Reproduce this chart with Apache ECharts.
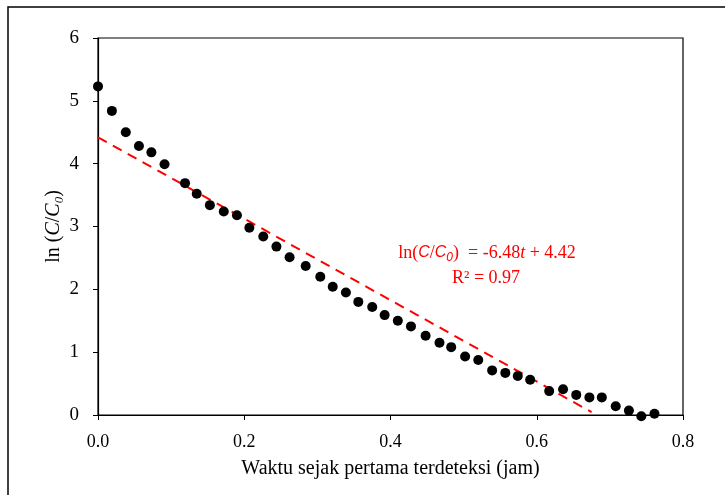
<!DOCTYPE html>
<html>
<head>
<meta charset="utf-8">
<script src="https://cdn.jsdelivr.net/npm/echarts@6/dist/echarts.min.js"></script>
<style>
  html, body { margin: 0; padding: 0; background: #fff; }
  #chart { width: 725px; height: 495px; }
</style>
</head>
<body>
<div id="chart"></div>
<script>
// measured points: time since first detection (h) vs ln(C/C0)
const timeJam = [0.0, 0.019, 0.038, 0.056, 0.073, 0.091, 0.119, 0.135, 0.153, 0.172, 0.190,
  0.207, 0.226, 0.244, 0.262, 0.284, 0.304, 0.321, 0.339, 0.356, 0.375,
  0.392, 0.410, 0.428, 0.448, 0.467, 0.483, 0.502, 0.520, 0.539, 0.557,
  0.574, 0.591, 0.617, 0.636, 0.654, 0.672, 0.689, 0.708, 0.726, 0.743, 0.761];
const lnRatio = [5.23, 4.84, 4.50, 4.28, 4.18, 3.99, 3.69, 3.52, 3.34, 3.24, 3.18,
  2.98, 2.84, 2.68, 2.51, 2.37, 2.20, 2.04, 1.95, 1.80, 1.72,
  1.59, 1.50, 1.41, 1.26, 1.15, 1.08, 0.93, 0.875, 0.71, 0.67,
  0.62, 0.56, 0.38, 0.41, 0.32, 0.28, 0.28, 0.14, 0.07, -0.02, 0.02];

// linear fit shown on the chart
const slope = -6.48;
const intercept = 4.42;
const fitRange = [0, 0.675];

const xTicks = [0, 0.2, 0.4, 0.6, 0.8];
const yTicks = [0, 1, 2, 3, 4, 5, 6];

const serif = "'Liberation Serif', 'Times New Roman', serif";
const red = '#ff0000';

const points = timeJam.map((t, i) => [t, lnRatio[i]]);
const fitLine = fitRange.map(t => [t, slope * t + intercept]);

const chart = echarts.init(document.getElementById('chart'));

chart.setOption({
  animation: false,
  backgroundColor: '#fff',
  grid: {
    left: 98, top: 38, right: 42, bottom: 80,
    show: true, borderColor: '#000', borderWidth: 1.2, backgroundColor: 'transparent'
  },
  xAxis: {
    type: 'value',
    min: xTicks[0], max: xTicks[xTicks.length - 1], interval: 0.2,
    name: 'Waktu sejak pertama terdeteksi (jam)',
    nameLocation: 'middle',
    nameGap: 44,
    nameMoveOverlap: false,
    nameTextStyle: { fontFamily: serif, fontSize: 20, color: '#000' },
    axisLine: { onZero: false, lineStyle: { color: '#000', width: 1.2 } },
    axisTick: { length: 5, lineStyle: { color: '#000' } },
    axisLabel: {
      margin: 18, fontFamily: serif, fontSize: 18, color: '#000',
      formatter: v => v.toFixed(1)
    },
    splitLine: { show: false }
  },
  yAxis: {
    type: 'value',
    min: yTicks[0], max: yTicks[yTicks.length - 1], interval: 1,
    name: '{n|ln (}{i|C}{n|/}{i|C}{s|0}{n|)}',
    nameLocation: 'middle',
    nameRotate: 90,
    nameGap: 32,
    nameMoveOverlap: false,
    nameTextStyle: {
      fontFamily: serif, fontSize: 20, color: '#000',
      rich: {
        n: { fontFamily: serif, fontSize: 20, color: '#000', lineHeight: 24 },
        i: { fontFamily: serif, fontSize: 20, fontStyle: 'italic', color: '#000', lineHeight: 24 },
        s: { fontFamily: serif, fontSize: 13, fontStyle: 'italic', color: '#000', verticalAlign: 'bottom', lineHeight: 24, padding: [6, 0, 0, 0] }
      }
    },
    axisLine: { lineStyle: { color: '#000', width: 1.2 } },
    axisTick: { show: true, length: 5, lineStyle: { color: '#000' } },
    axisLabel: { margin: 19, fontFamily: serif, fontSize: 19, color: '#000' },
    splitLine: { show: false }
  },
  series: [
    {
      type: 'line',
      data: fitLine,
      symbol: 'none',
      z: 1,
      lineStyle: { color: red, width: 2, type: [10, 7] }
    },
    {
      type: 'scatter',
      data: points,
      symbol: 'circle',
      symbolSize: 10,
      clip: false,
      z: 2,
      itemStyle: { color: '#000', opacity: 1 }
    }
  ],
  graphic: [
    {
      type: 'rect',
      shape: { x: 8, y: 7, width: 800, height: 600 },
      style: { fill: 'none', stroke: '#000', lineWidth: 1.5 },
      silent: true
    },
    {
      type: 'text',
      x: 487, y: 253,
      style: {
        text: '{n|ln(}{c|C}{n|/}{c|C}{s|0}{n|)  = -6.48}{t|t}{n| + 4.42}',
        align: 'center', verticalAlign: 'middle',
        rich: {
          n: { fontFamily: serif, fontSize: 18, fill: red, lineHeight: 22 },
          t: { fontFamily: serif, fontSize: 18, fontStyle: 'italic', fill: red, lineHeight: 22 },
          c: { fontFamily: "'Liberation Sans', Arial, sans-serif", fontSize: 16, fontStyle: 'italic', fill: red, lineHeight: 22 },
          s: { fontFamily: "'Liberation Sans', Arial, sans-serif", fontSize: 12, fontStyle: 'italic', fill: red, lineHeight: 22, verticalAlign: 'bottom', padding: [5, 0, 0, 0] }
        }
      }
    },
    {
      type: 'text',
      x: 486, y: 278,
      style: {
        text: 'R² = 0.97',
        align: 'center', verticalAlign: 'middle',
        fontFamily: serif, fontSize: 18, fill: red
      }
    }
  ]
});
</script>
</body>
</html>
